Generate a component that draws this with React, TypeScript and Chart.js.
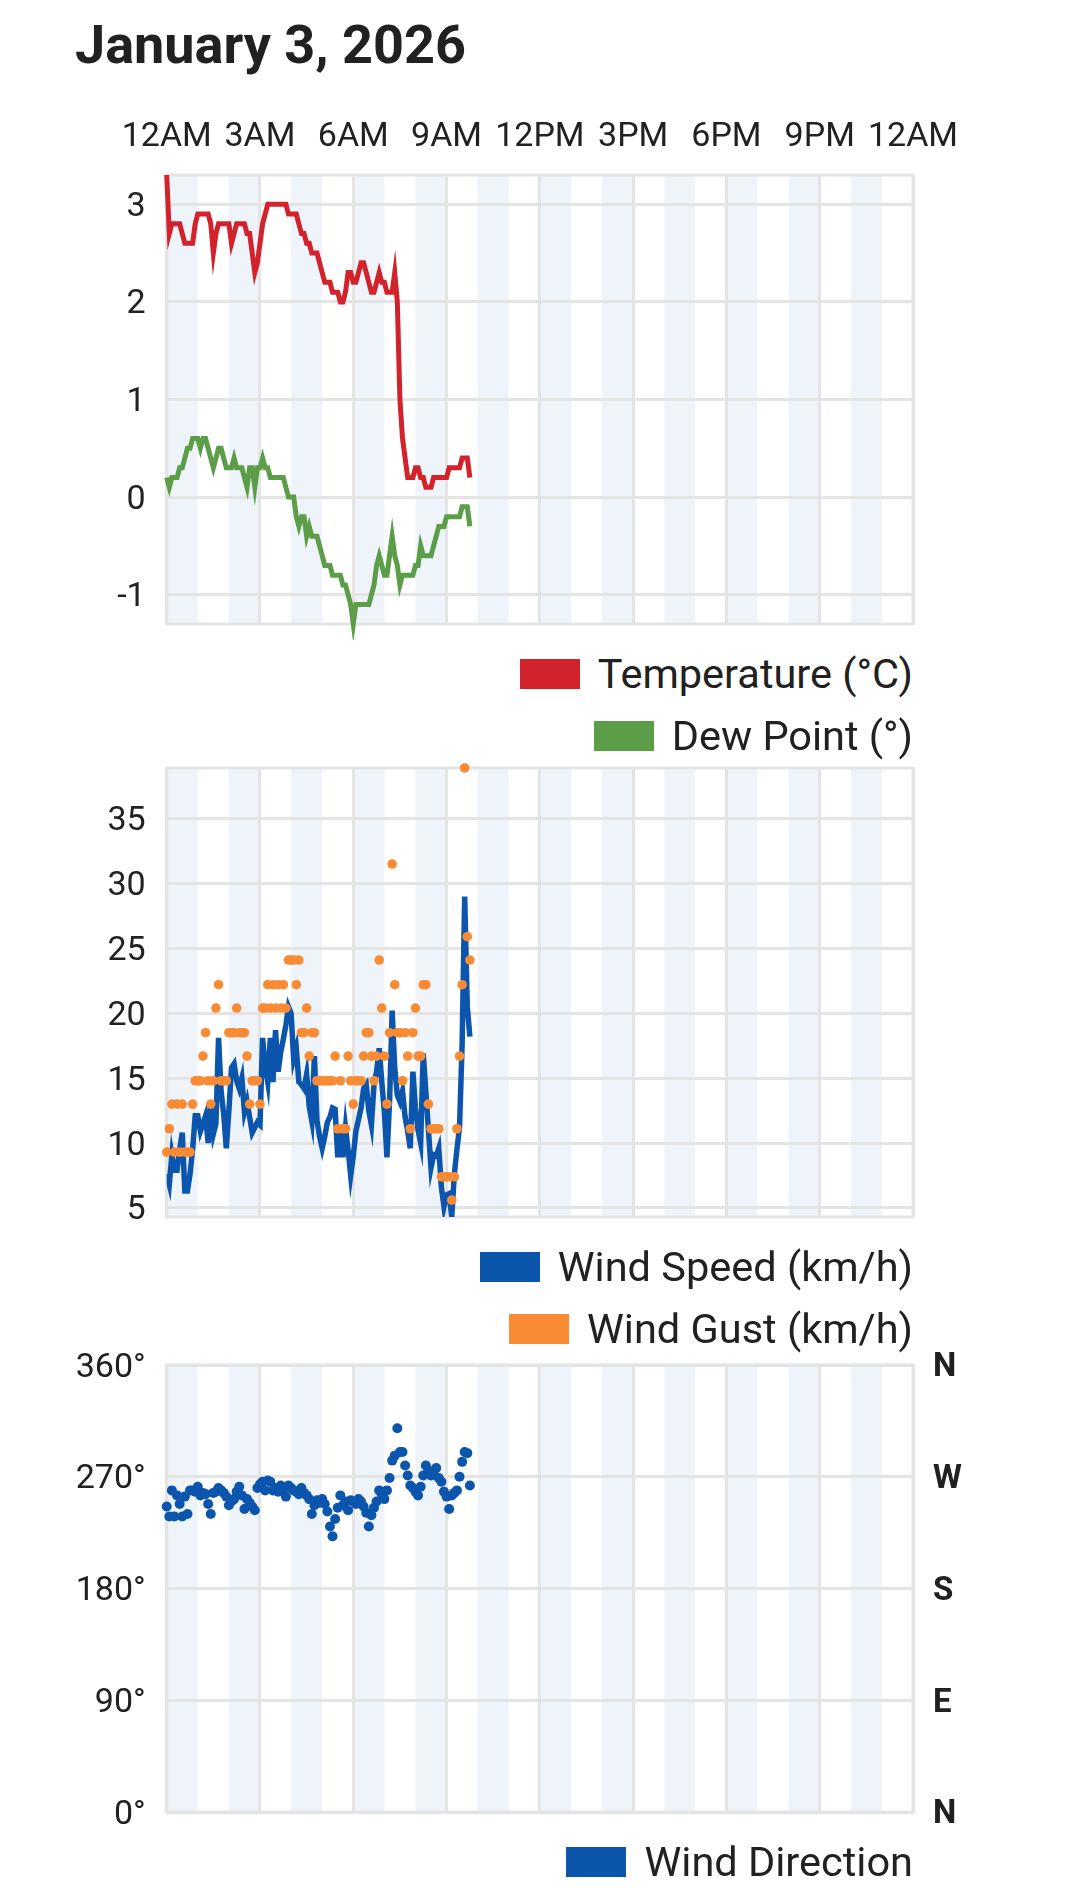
import React, { useEffect, useRef } from "react";
import { Chart, registerables } from "chart.js";

Chart.register(...registerables);

// ---- data (5-minute observations, minutes after midnight) ----
const TIMES = [
  0, 5, 10, 15, 20, 25, 30, 35, 40, 45, 50, 55,
  60, 65, 70, 75, 80, 85, 90, 95, 100, 105, 110, 115,
  120, 125, 130, 135, 140, 145, 150, 155, 160, 165, 170, 175,
  180, 185, 190, 195, 200, 205, 210, 215, 220, 225, 230, 235,
  240, 245, 250, 255, 260, 265, 270, 275, 280, 285, 290, 295,
  300, 305, 310, 315, 320, 325, 330, 335, 340, 345, 350, 355,
  360, 365, 370, 375, 380, 385, 390, 395, 400, 405, 410, 415,
  420, 425, 430, 435, 440, 445, 450, 455, 460, 465, 470, 475,
  480, 485, 490, 495, 500, 505, 510, 515, 520, 525, 530, 535,
  540, 545, 550, 555, 560, 565, 570, 575, 580, 585,
];

const TEMPERATURE = [
  3.3, 2.7, 2.8, 2.8, 2.8, 2.8, 2.7, 2.6, 2.6, 2.6, 2.6, 2.8,
  2.9, 2.9, 2.9, 2.9, 2.9, 2.8, 2.5, 2.7, 2.8, 2.8, 2.8, 2.8,
  2.8, 2.6, 2.7, 2.8, 2.8, 2.8, 2.8, 2.7, 2.7, 2.5, 2.3, 2.4,
  2.6, 2.8, 2.9, 3.0, 3.0, 3.0, 3.0, 3.0, 3.0, 3.0, 3.0, 2.9,
  2.9, 2.9, 2.9, 2.8, 2.7, 2.7, 2.6, 2.6, 2.5, 2.5, 2.5, 2.4,
  2.3, 2.2, 2.2, 2.2, 2.1, 2.1, 2.1, 2.0, 2.0, 2.1, 2.3, 2.3,
  2.2, 2.2, 2.3, 2.4, 2.4, 2.3, 2.2, 2.1, 2.1, 2.2, 2.3, 2.2,
  2.2, 2.1, 2.1, 2.1, 2.3, 2.0, 1.0, 0.6, 0.4, 0.2, 0.2, 0.2,
  0.3, 0.3, 0.2, 0.2, 0.1, 0.1, 0.1, 0.2, 0.2, 0.2, 0.2, 0.2,
  0.2, 0.3, 0.3, 0.3, 0.3, 0.3, 0.4, 0.4, 0.4, 0.2,
];

const DEW_POINT = [
  0.2, 0.1, 0.2, 0.2, 0.2, 0.3, 0.3, 0.4, 0.5, 0.5, 0.6, 0.6,
  0.6, 0.5, 0.6, 0.6, 0.5, 0.4, 0.3, 0.4, 0.5, 0.5, 0.4, 0.3,
  0.3, 0.3, 0.4, 0.3, 0.3, 0.3, 0.2, 0.1, 0.3, 0.3, 0.1, 0.3,
  0.3, 0.4, 0.3, 0.3, 0.2, 0.2, 0.2, 0.2, 0.2, 0.2, 0.1, 0.0,
  0.0, 0.0, -0.2, -0.3, -0.2, -0.2, -0.4, -0.3, -0.4, -0.4, -0.4, -0.5,
  -0.6, -0.7, -0.7, -0.7, -0.8, -0.8, -0.8, -0.8, -0.9, -0.9, -1.0, -1.1,
  -1.3, -1.1, -1.1, -1.1, -1.1, -1.1, -1.1, -1.0, -0.9, -0.7, -0.6, -0.7,
  -0.8, -0.8, -0.6, -0.4, -0.6, -0.7, -0.9, -0.8, -0.8, -0.8, -0.8, -0.8,
  -0.7, -0.7, -0.5, -0.6, -0.6, -0.6, -0.6, -0.5, -0.4, -0.3, -0.3, -0.3,
  -0.2, -0.2, -0.2, -0.2, -0.2, -0.2, -0.1, -0.1, -0.1, -0.3,
];

const WIND_SPEED = [
  7.6, 6.8, 9.1, 7.9, 7.9, 9.5, 10.8, 6.3, 6.3, 7.6, 9.5, 12.1,
  12.1, 10.9, 11.5, 12.1, 10.0, 12.7, 10.7, 11.5, 18.1, 14.0, 12.2, 9.6,
  12.5, 15.8, 16.1, 14.8, 14.2, 15.0, 12.4, 13.2, 12.0, 10.8, 11.2, 11.6,
  11.4, 18.1, 16.0, 14.7, 18.1, 14.7, 18.7, 15.5, 17.0, 18.0, 19.1, 20.5,
  20.0, 16.5, 17.3, 14.7, 14.5, 14.2, 15.3, 12.8, 11.7, 16.7, 11.7, 10.5,
  9.6, 10.5, 11.6, 12.0, 12.7, 12.6, 8.9, 11.3, 8.9, 11.2, 9.5, 7.5,
  9.0, 10.9, 11.8, 12.7, 14.2, 14.5, 12.5, 11.4, 14.5, 15.5, 17.3, 14.7,
  12.4, 8.9, 13.2, 20.2, 15.8, 13.7, 13.2, 14.0, 12.0, 10.9, 9.6, 15.5,
  12.7, 11.0, 10.0, 16.9, 14.0, 11.0, 8.1, 9.1, 9.0, 9.6, 6.6, 5.1,
  6.0, 6.1, 4.3, 7.6, 9.5, 11.2, 17.6, 29.0, 20.5, 18.2,
];

const WIND_GUST = [
  9.3, 11.1, 13.0, 9.3, 13.0, 9.3, 13.0, 9.3, 9.3, 9.3, 13.0, 14.8,
  14.8, 14.8, 16.7, 18.5, 14.8, 13.0, 14.8, 20.4, 22.2, 14.8, 14.8, 14.8,
  18.5, 18.5, 18.5, 20.4, 18.5, 18.5, 18.5, 16.7, 13.0, 14.8, 14.8, 14.8,
  13.0, 20.4, 20.4, 22.2, 20.4, 22.2, 20.4, 22.2, 20.4, 22.2, 20.4, 24.1,
  24.1, 24.1, 22.2, 24.1, 18.5, 18.5, 20.4, 16.7, 18.5, 18.5, 14.8, 14.8,
  14.8, 14.8, 14.8, 14.8, 14.8, 16.7, 11.1, 14.8, 11.1, 11.1, 16.7, 14.8,
  13.0, 14.8, 14.8, 14.8, 16.7, 18.5, 18.5, 16.7, 14.8, 16.7, 24.1, 20.4,
  16.7, 13.0, 18.5, 31.5, 22.2, 18.5, 18.5, 14.8, 18.5, 16.7, 11.1, 18.5,
  20.4, 16.7, 16.7, 22.2, 22.2, 13.0, 11.1, 11.1, 11.1, 11.1, 7.4, 7.4,
  7.4, 7.4, 5.6, 7.4, 11.1, 16.7, 22.2, 38.9, 25.9, 24.1,
];

const WIND_DIRECTION = [
  246, 238, 259, 238, 255, 248, 238, 254, 240, 259, 259, 258,
  262, 255, 257, 256, 248, 240, 257, 258, 261, 259, 257, 254,
  247, 250, 252, 258, 262, 255, 244, 252, 249, 246, 243, 261,
  264, 266, 259, 267, 266, 259, 261, 258, 263, 260, 254, 263,
  261, 259, 258, 256, 261, 257, 255, 252, 240, 247, 251, 249,
  252, 248, 242, 230, 222, 236, 245, 255, 247, 250, 243, 251,
  250, 248, 252, 250, 246, 241, 230, 239, 245, 250, 259, 256,
  252, 259, 269, 283, 287, 309, 290, 290, 279, 271, 263, 261,
  258, 255, 262, 271, 279, 275, 271, 274, 277, 269, 266, 258,
  254, 244, 255, 257, 259, 270, 282, 290, 289, 263,
];

const HOUR_TICKS = [0, 180, 360, 540, 720, 900, 1080, 1260, 1440];
const HOUR_LABELS = ["12AM", "3AM", "6AM", "9AM", "12PM", "3PM", "6PM", "9PM", "12AM"];
const DIRECTION_TICKS = [0, 90, 180, 270, 360];
const COMPASS_LABELS = ["N", "E", "S", "W", "N"];

// ---- styling ----
const FONT = "Roboto, 'Noto Sans', 'DejaVu Sans', sans-serif";
const TEXT = "#212121";
const GRID = "#e4e4e4";
const BAND = "#eff4fa";
const RED = "#d2232d";
const GREEN = "#5b9e47";
const BLUE = "#0b55ad";
const ORANGE = "#f98b35";

const PLOT_LEFT = 166.7;
const PLOT_RIGHT_PAD = 167;
const TICK_SIZE = 34;

const toPoints = (values: number[]) => TIMES.map((t, i) => ({ x: t, y: values[i] }));

const zeroPadding = (s: any) => {
  s.paddingTop = 0;
  s.paddingBottom = 0;
  s.paddingLeft = 0;
  s.paddingRight = 0;
};

const bandsPlugin = {
  id: "hourBands",
  beforeDraw(chart: any) {
    const { ctx, chartArea: a, scales } = chart;
    const x = scales.x;
    ctx.save();
    ctx.fillStyle = BAND;
    for (let h = 0; h < 24; h += 2) {
      const l = x.getPixelForValue(h * 60);
      const r = x.getPixelForValue((h + 1) * 60);
      ctx.fillRect(l, a.top, r - l, a.bottom - a.top);
    }
    ctx.restore();
  },
  beforeDatasetsDraw(chart: any) {
    const { ctx, chartArea: a } = chart;
    ctx.save();
    ctx.strokeStyle = GRID;
    ctx.lineWidth = 3;
    ctx.strokeRect(a.left, a.top, a.right - a.left, a.bottom - a.top);
    ctx.restore();
  },
};

function xScale(showLabels: boolean) {
  return {
    type: "linear",
    min: 0,
    max: 1440,
    position: showLabels ? "top" : "bottom",
    afterBuildTicks: (s: any) => {
      s.ticks = HOUR_TICKS.map((v) => ({ value: v }));
    },
    ticks: {
      display: showLabels,
      autoSkip: false,
      maxRotation: 0,
      minRotation: 0,
      padding: 17,
      color: TEXT,
      font: { family: FONT, size: TICK_SIZE },
      callback: (_v: any, i: number) => HOUR_LABELS[i],
    },
    grid: { color: GRID, lineWidth: 3, drawTicks: false },
    border: { display: false },
    afterFit: (s: any) => {
      s.height = showLabels ? 75 : 0;
      zeroPadding(s);
    },
  };
}

function yScale(min: number, max: number, step: number, fmt: (v: number) => string) {
  return {
    type: "linear",
    position: "left",
    min,
    max,
    ticks: {
      stepSize: step,
      includeBounds: false,
      padding: 21,
      labelOffset: 3,
      color: TEXT,
      font: { family: FONT, size: TICK_SIZE },
      callback: (v: any) => fmt(Number(v)),
    },
    grid: { color: GRID, lineWidth: 3, drawTicks: false },
    border: { display: false },
    afterFit: (s: any) => {
      s.width = PLOT_LEFT;
      zeroPadding(s);
    },
  };
}

function useChart(ref: React.RefObject<HTMLCanvasElement>, makeConfig: () => any) {
  useEffect(() => {
    if (!ref.current) return;
    const chart = new Chart(ref.current, makeConfig());
    return () => chart.destroy();
  }, []);
}

const baseOptions = (padding: any) => ({
  responsive: false,
  animation: false,
  layout: { padding },
  plugins: { legend: { display: false }, tooltip: { enabled: false } },
});

function TempChart() {
  const ref = useRef<HTMLCanvasElement>(null);
  useChart(ref, () => {
    const all = [...TEMPERATURE, ...DEW_POINT];
    return {
      type: "line",
      data: {
        datasets: [
          { label: "Temperature (°C)", data: toPoints(TEMPERATURE), borderColor: RED, backgroundColor: RED, borderWidth: 5, pointRadius: 0, tension: 0, clip: false },
          { label: "Dew Point (°)", data: toPoints(DEW_POINT), borderColor: GREEN, backgroundColor: GREEN, borderWidth: 5, pointRadius: 0, tension: 0, clip: false },
        ],
      },
      options: {
        ...baseOptions({ left: 0, right: PLOT_RIGHT_PAD, top: 0, bottom: 16 }),
        scales: {
          x: xScale(true),
          y: yScale(Math.min(...all), Math.max(...all), 1, (v) => String(v)),
        },
      },
      plugins: [bandsPlugin],
    };
  });
  return <canvas ref={ref} width={1080} height={540} style={{ position: "absolute", left: 0, top: 100 }} />;
}

function WindChart() {
  const ref = useRef<HTMLCanvasElement>(null);
  useChart(ref, () => {
    const all = [...WIND_SPEED, ...WIND_GUST];
    return {
      type: "line",
      data: {
        datasets: [
          { label: "Wind Speed (km/h)", data: toPoints(WIND_SPEED), borderColor: BLUE, backgroundColor: BLUE, borderWidth: 5.5, pointRadius: 0, tension: 0, order: 1 },
          { label: "Wind Gust (km/h)", data: toPoints(WIND_GUST), showLine: false, borderColor: ORANGE, backgroundColor: ORANGE, pointRadius: 4.8, pointBorderWidth: 0, order: 0, clip: false },
        ],
      },
      options: {
        ...baseOptions({ left: 0, right: PLOT_RIGHT_PAD, top: 38, bottom: 23 }),
        scales: {
          x: xScale(false),
          y: yScale(Math.min(...all), Math.max(...all), 5, (v) => String(v)),
        },
      },
      plugins: [bandsPlugin],
    };
  });
  return <canvas ref={ref} width={1080} height={510} style={{ position: "absolute", left: 0, top: 730 }} />;
}

function DirectionChart() {
  const ref = useRef<HTMLCanvasElement>(null);
  useChart(ref, () => ({
    type: "scatter",
    data: {
      datasets: [
        { label: "Wind Direction", data: toPoints(WIND_DIRECTION), borderColor: BLUE, backgroundColor: BLUE, pointRadius: 5, pointBorderWidth: 0, clip: false },
      ],
    },
    options: {
      ...baseOptions({ left: 0, right: 0, top: 35, bottom: 28 }),
      scales: {
        x: xScale(false),
        y: yScale(0, 360, 90, (v) => `${v}°`),
        y2: {
          type: "linear",
          position: "right",
          min: 0,
          max: 360,
          afterBuildTicks: (s: any) => {
            s.ticks = DIRECTION_TICKS.map((v) => ({ value: v }));
          },
          ticks: {
            padding: 20,
            labelOffset: 3,
            color: TEXT,
            font: { family: FONT, size: 33, weight: "bold" },
            callback: (_v: any, i: number) => COMPASS_LABELS[i],
          },
          grid: { display: false, drawTicks: false },
          border: { display: false },
          afterFit: (s: any) => {
            s.width = PLOT_RIGHT_PAD;
            zeroPadding(s);
          },
        },
      },
    },
    plugins: [bandsPlugin],
  }));
  return <canvas ref={ref} width={1080} height={510} style={{ position: "absolute", left: 0, top: 1330 }} />;
}

function Legend({ items, center }: { items: { label: string; color: string }[]; center: number }) {
  return (
    <>
      {items.map((it, i) => (
        <div
          key={it.label}
          style={{
            position: "absolute",
            left: 0,
            width: 913,
            top: center + i * 62 - 31,
            height: 62,
            display: "flex",
            justifyContent: "flex-end",
            alignItems: "center",
            zIndex: 2,
          }}
        >
          <span style={{ display: "inline-block", width: 60, height: 30, background: it.color, marginRight: 18 }} />
          <span style={{ fontFamily: FONT, fontSize: 41.5, lineHeight: "42px", color: TEXT, whiteSpace: "nowrap" }}>{it.label}</span>
        </div>
      ))}
    </>
  );
}

export default function App() {
  return (
    <div style={{ position: "absolute", left: 0, top: 0, width: 1080, height: 1888, background: "#fff", overflow: "hidden" }}>
      <div
        style={{
          position: "absolute",
          left: 75,
          top: 15,
          fontFamily: FONT,
          fontWeight: 700,
          fontSize: 54,
          lineHeight: "60px",
          color: TEXT,
          whiteSpace: "nowrap",
        }}
      >
        January 3, 2026
      </div>
      <TempChart />
      <Legend
        center={674}
        items={[
          { label: "Temperature (°C)", color: RED },
          { label: "Dew Point (°)", color: GREEN },
        ]}
      />
      <WindChart />
      <Legend
        center={1267}
        items={[
          { label: "Wind Speed (km/h)", color: BLUE },
          { label: "Wind Gust (km/h)", color: ORANGE },
        ]}
      />
      <DirectionChart />
      <Legend center={1862} items={[{ label: "Wind Direction", color: BLUE }]} />
    </div>
  );
}
